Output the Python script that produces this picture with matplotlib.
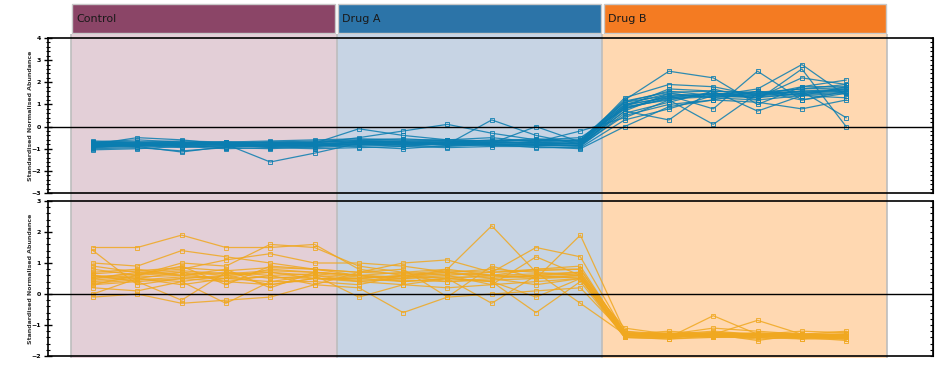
import matplotlib
matplotlib.use("Agg")
import matplotlib.pyplot as plt
from matplotlib.patches import Rectangle
from matplotlib.ticker import MultipleLocator, AutoMinorLocator
import numpy as np

groups = ["Control", "Drug A", "Drug B"]
header_colors = ["#8B4567", "#2C74A8", "#F47B22"]
shade_colors = ["#E3CFD7", "#C7D4E4", "#FFD8B1"]
n_per_group = 6

# profiles going up in Drug B (top panel), 6 samples per group
up_profiles = [
    [-0.80, -0.75, -0.85, -0.80, -0.78, -0.70, -0.65, -0.70, -0.72, -0.75, -0.70, -0.80, 0.80, 1.30, 1.40, 1.30, 1.50, 1.60],
    [-0.90, -0.85, -0.80, -0.85, -0.90, -0.80, -0.70, -0.75, -0.68, -0.72, -0.78, -0.75, 0.90, 1.20, 1.50, 1.40, 1.60, 1.70],
    [-0.70, -0.60, -0.70, -0.75, -0.70, -0.65, -0.60, -0.55, -0.65, -0.70, -0.60, -0.70, 1.00, 1.50, 1.30, 1.20, 1.40, 1.50],
    [-1.00, -0.95, -1.10, -0.95, -1.00, -0.90, -0.80, -0.85, -0.90, -0.80, -0.85, -0.90, 0.60, 1.10, 1.60, 1.50, 1.70, 1.90],
    [-0.85, -0.80, -0.75, -0.80, -1.60, -1.20, -0.75, -0.80, -0.75, -0.85, -0.80, -0.85, 0.50, 1.00, 1.20, 1.60, 1.40, 1.30],
    [-0.75, -0.70, -0.80, -0.70, -0.75, -0.75, -0.10, -0.40, -0.60, -0.50, -0.70, -0.60, 1.20, 2.50, 2.20, 1.00, 1.80, 1.80],
    [-0.95, -0.90, -1.15, -0.90, -0.85, -0.85, -0.90, -1.00, -0.85, -0.80, -0.95, -0.95, 0.30, 0.80, 1.40, 1.70, 2.80, 1.40],
    [-0.80, -0.50, -0.60, -0.80, -0.80, -0.75, -0.50, -0.20, 0.10, -0.30, -0.60, -0.50, 0.80, 1.40, 0.80, 2.50, 1.20, 1.60],
    [-0.70, -0.75, -0.70, -0.80, -0.70, -0.70, -0.70, -0.65, -0.70, -0.60, -0.65, -0.60, 1.10, 1.60, 1.40, 1.40, 1.80, 2.10],
    [-0.90, -0.85, -0.95, -0.85, -0.90, -0.95, -0.85, -0.80, -0.80, 0.30, -0.40, -0.80, 0.70, 0.30, 1.70, 1.20, 2.60, 0.00],
    [-0.85, -0.90, -0.85, -0.95, -0.80, -0.80, -0.80, -0.90, -0.75, -0.75, -0.70, -0.20, 0.40, 1.20, 0.10, 1.50, 1.60, 0.40],
    [-0.75, -0.80, -0.75, -0.70, -0.85, -0.90, -0.65, -0.70, -0.80, -0.75, 0.00, -0.70, 0.90, 1.70, 1.60, 0.70, 1.40, 1.80],
    [-1.05, -1.00, -0.90, -1.00, -0.95, -1.00, -0.95, -0.90, -0.95, -0.90, -0.90, -1.00, 0.00, 0.90, 1.20, 1.10, 0.80, 1.20],
    [-0.80, -0.85, -0.80, -0.75, -0.70, -0.80, -0.70, -0.75, -0.70, -0.70, -0.75, -0.75, 1.30, 1.90, 1.80, 1.40, 1.50, 1.70],
    [-0.65, -0.70, -0.65, -0.70, -0.65, -0.60, -0.55, -0.60, -0.60, -0.65, -0.55, -0.65, 1.00, 1.30, 1.50, 1.30, 2.20, 1.90],
    [-0.95, -0.80, -0.90, -0.80, -0.95, -0.85, -0.75, -0.70, -0.85, -0.80, -0.85, -0.85, 0.70, 1.50, 1.30, 1.60, 1.20, 1.50],
    [-0.78, -0.82, -0.78, -0.82, -0.80, -0.78, -0.72, -0.70, -0.74, -0.70, -0.72, -0.74, 1.10, 1.40, 1.45, 1.50, 1.55, 1.65],
    [-0.88, -0.85, -0.88, -0.90, -0.86, -0.88, -0.80, -0.82, -0.80, -0.85, -0.82, -0.86, 0.85, 1.25, 1.35, 1.35, 1.45, 1.55],
    [-0.72, -0.70, -0.72, -0.70, -0.74, -0.72, -0.62, -0.65, -0.62, -0.64, -0.62, -0.66, 1.15, 1.55, 1.60, 1.55, 1.70, 1.75],
    [-0.82, -0.78, -0.82, -0.78, -0.80, -0.84, -0.78, -0.76, -0.78, -0.78, -0.80, -0.78, 0.95, 1.35, 1.50, 1.45, 1.60, 1.60],
]

# profiles going down in Drug B (bottom panel)
down_profiles = [
    [0.50, 0.60, 0.70, 0.60, 0.70, 0.60, 0.50, 0.60, 0.50, 0.60, 0.55, 0.60, -1.30, -1.35, -1.30, -1.35, -1.30, -1.35],
    [1.50, 1.50, 1.90, 1.50, 1.50, 1.60, 0.80, 0.60, 0.70, 0.50, 0.60, 0.70, -1.20, -1.30, -1.25, -1.30, -1.40, -1.40],
    [0.30, 0.40, 0.50, 0.40, 0.30, 0.50, 0.40, 0.30, 0.20, 0.30, 0.40, 0.50, -1.35, -1.40, -1.30, -1.40, -1.35, -1.45],
    [-0.10, 0.00, -0.30, -0.20, -0.10, 0.30, 0.20, -0.60, -0.10, 0.00, 0.10, 0.20, -1.30, -1.25, -1.35, -1.30, -1.30, -1.40],
    [1.00, 0.90, 1.40, 1.20, 1.00, 0.80, 0.60, 0.50, 0.80, 2.20, 0.70, 0.60, -1.10, -1.30, -1.10, -1.20, -1.30, -1.30],
    [0.70, 0.80, 0.60, 0.50, 0.80, 0.70, 0.60, 0.70, 0.60, 0.70, 1.50, 1.20, -1.25, -1.40, -0.70, -1.30, -1.20, -1.25],
    [0.20, 0.10, 0.40, 0.60, 0.30, 0.50, 0.50, 0.40, 0.50, 0.40, -0.60, 0.40, -1.40, -1.45, -1.35, -1.45, -1.40, -1.50],
    [0.90, 0.70, 0.80, 1.10, 1.30, 1.00, 1.00, 0.90, 0.70, 0.60, 0.80, 0.90, -1.30, -1.20, -1.30, -0.85, -1.30, -1.20],
    [0.40, 0.50, 0.30, 0.50, 0.40, 0.40, 0.30, 0.60, 0.40, 0.50, 0.30, 0.50, -1.35, -1.35, -1.40, -1.35, -1.40, -1.35],
    [0.00, 0.50, 0.70, 0.40, 0.60, 0.30, 0.70, 0.80, -0.10, 0.90, 0.50, 1.90, -1.20, -1.40, -1.30, -1.50, -1.30, -1.30],
    [0.60, 0.40, -0.20, 0.70, 0.50, 0.60, 0.40, 0.50, 0.60, 0.30, 1.20, 0.60, -1.30, -1.30, -1.25, -1.30, -1.45, -1.30],
    [0.80, 0.60, 0.90, 0.30, 0.90, 0.80, 0.70, 1.00, 1.10, 0.70, 0.80, 0.80, -1.25, -1.30, -1.30, -1.25, -1.30, -1.30],
    [0.50, 0.70, 0.60, 0.80, 0.20, 0.70, 0.60, 0.40, 0.50, -0.30, 0.60, 0.50, -1.40, -1.40, -1.35, -1.40, -1.35, -1.40],
    [1.40, 0.30, 0.50, 0.60, 0.70, 0.50, 0.50, 0.60, 0.70, 0.80, 0.70, -0.30, -1.30, -1.30, -1.20, -1.30, -1.30, -1.35],
    [0.30, 0.60, 1.00, 0.90, 1.60, 1.50, 0.90, 0.70, 0.80, 0.60, 0.50, 0.60, -1.30, -1.40, -1.30, -1.35, -1.40, -1.45],
    [0.60, 0.50, 0.40, -0.30, 0.40, 0.60, -0.10, 0.30, 0.50, 0.40, -0.10, 0.50, -1.35, -1.30, -1.40, -1.30, -1.35, -1.30],
    [0.55, 0.65, 0.75, 0.65, 0.75, 0.70, 0.60, 0.55, 0.65, 0.60, 0.65, 0.70, -1.30, -1.35, -1.35, -1.30, -1.35, -1.40],
    [0.45, 0.55, 0.60, 0.70, 0.60, 0.65, 0.55, 0.50, 0.55, 0.55, 0.60, 0.65, -1.35, -1.40, -1.30, -1.35, -1.40, -1.40],
    [0.65, 0.75, 0.85, 0.75, 0.85, 0.80, 0.70, 0.65, 0.75, 0.70, 0.75, 0.80, -1.25, -1.35, -1.25, -1.30, -1.30, -1.35],
    [0.35, 0.45, 0.55, 0.50, 0.55, 0.50, 0.45, 0.45, 0.40, 0.45, 0.50, 0.55, -1.40, -1.45, -1.40, -1.40, -1.45, -1.45],
]

up_color = "#0A7DB0"
down_color = "#F0A820"

W, H = 941, 368
fig = plt.figure(figsize=(W / 100, H / 100), dpi=100)

xlim = (-1.016, 18.96)
x_left, x_right = 48, 933
bounds = [-0.5, 5.5, 11.5, 17.93]

def fig_rect(px_left, px_top, px_right, px_bottom):
    return [px_left / W, 1 - px_bottom / H, (px_right - px_left) / W, (px_bottom - px_top) / H]

# shaded background behind both panels
bg = fig.add_axes(fig_rect(x_left, 34, x_right, 358), zorder=0)
bg.set_xlim(*xlim)
bg.set_ylim(0, 1)
bg.axis("off")
for i in range(3):
    bg.axvspan(bounds[i], bounds[i + 1], color=shade_colors[i], lw=0)
    bg.axvline(bounds[i], color="#BDBDBD", lw=1.2)
bg.axvline(bounds[3], color="#BDBDBD", lw=1.2)

# group headers
hd = fig.add_axes(fig_rect(x_left, 3, x_right, 34), zorder=1)
hd.set_xlim(*xlim)
hd.set_ylim(0, 1)
hd.axis("off")
for i, name in enumerate(groups):
    hd.add_patch(Rectangle((bounds[i] + 0.03, 0.02), bounds[i + 1] - bounds[i] - 0.06, 0.96,
                           facecolor=header_colors[i], edgecolor="#C8C8C8", lw=1))
    hd.text(bounds[i] + 0.12, 0.47, name, fontsize=8, va="center", ha="left", color="#1A1A1A")

x = np.arange(len(up_profiles[0]))

def panel(rect, profiles, color, ylim):
    ax = fig.add_axes(rect, zorder=2)
    ax.patch.set_alpha(0)
    for row in profiles:
        ax.plot(x, row, color=color, lw=0.9, alpha=0.85, marker="s", ms=2.6,
                mfc="none", mec=color, mew=0.7)
    ax.axhline(0, color="black", lw=1)
    ax.set_xlim(*xlim)
    ax.set_ylim(*ylim)
    ax.set_xticks([])
    ax.yaxis.set_major_locator(MultipleLocator(1))
    ax.yaxis.set_minor_locator(AutoMinorLocator(5))
    ax.tick_params(axis="y", which="major", direction="inout", length=6, width=1,
                   labelsize=4.5, pad=2)
    ax.tick_params(axis="y", which="minor", direction="inout", length=3.5, width=0.8)
    # right side: short inward ticks only
    ax2 = ax.secondary_yaxis("right")
    ax2.yaxis.set_major_locator(MultipleLocator(1))
    ax2.yaxis.set_minor_locator(AutoMinorLocator(5))
    ax2.tick_params(which="both", direction="in", length=2.5, width=0.8, labelright=False)
    for lab in ax.get_yticklabels():
        lab.set_fontweight("bold")
    for s in ax.spines.values():
        s.set_linewidth(1.2)
        s.set_color("black")
    ax.set_ylabel("Standardised Normalised Abundance", fontsize=4.5, fontweight="bold",
                  color="#333333")
    ax.yaxis.set_label_coords(-0.017, 0.5)
    return ax

panel(fig_rect(x_left, 38, x_right, 193), up_profiles, up_color, (-3, 4))
panel(fig_rect(x_left, 201, x_right, 356), down_profiles, down_color, (-2, 3))

fig.savefig("out.png", dpi=100)
